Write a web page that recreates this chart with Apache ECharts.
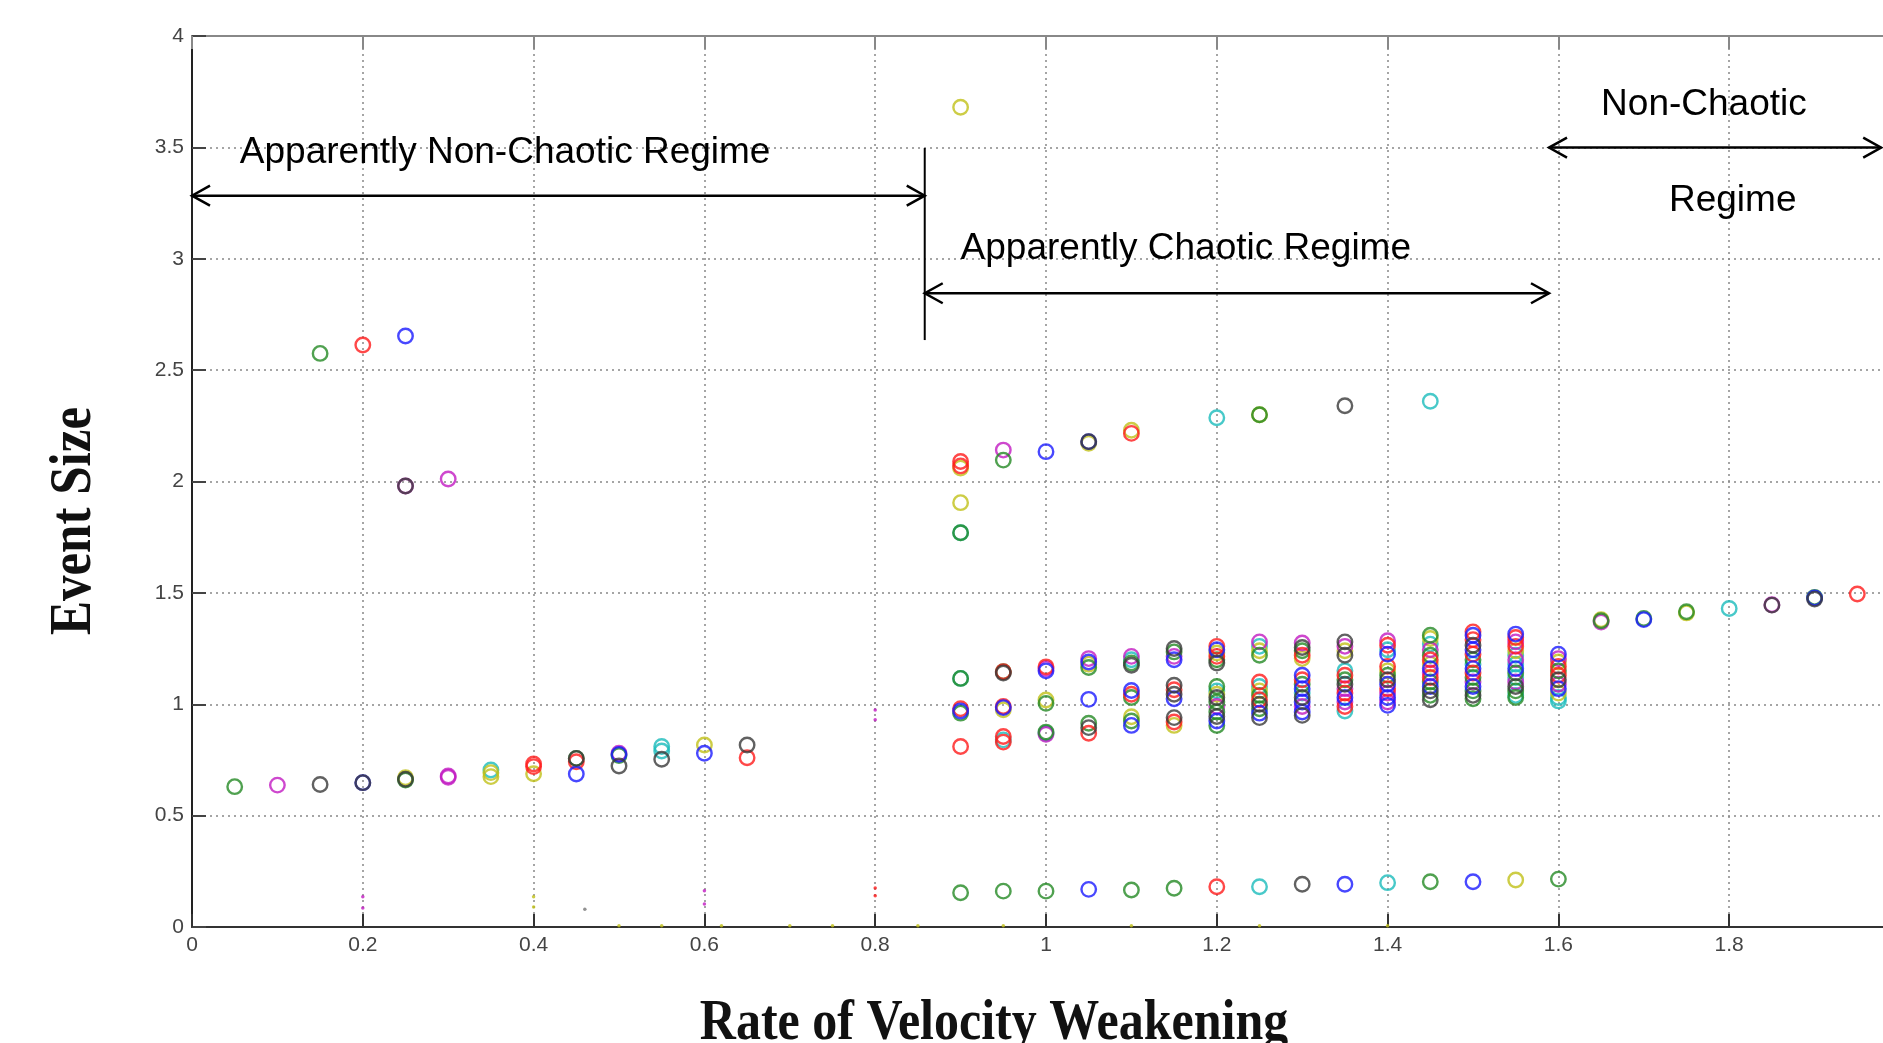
<!DOCTYPE html>
<html><head><meta charset="utf-8">
<script src="https://cdn.jsdelivr.net/npm/echarts@6/dist/echarts.min.js"></script>
<style>html,body{margin:0;padding:0;background:#fff;}#c{width:1883px;height:1043px;}</style>
</head><body><div id="c"></div>
<script>
// ---- data: [rate of velocity weakening, event size] per marker colour ----
const blueData = [
 [0.2,0.648],[0.45,0.687],[0.5,0.775],[0.6,0.78],[0.25,2.653],
 [0.9,0.97],[0.95,0.985],[1.0,2.134],[1.0,1.15],[1.05,2.179],[1.05,1.19],[1.05,1.022],[1.1,1.062],[1.1,0.905],[1.15,1.2],[1.15,1.025],
 [1.2,1.245],[1.2,0.925],[1.25,0.96],[1.3,1.13],[1.3,1.07],[1.3,1.01],[1.3,0.965],[1.35,1.03],[1.4,1.225],[1.4,1.09],[1.4,1.03],[1.4,0.995],
 [1.45,1.16],[1.45,1.08],[1.5,1.31],[1.5,1.245],[1.5,1.16],[1.5,1.08],[1.55,1.315],[1.55,1.16],[1.6,1.225],[1.6,1.07],
 [1.05,0.169],[1.35,0.192],[1.5,0.203],[1.7,1.38],[1.9,1.477]
];
const greenData = [
 [0.05,0.63],[0.25,0.66],[0.45,0.757],[0.5,0.77],[0.15,2.575],
 [0.9,1.77],[0.95,2.096],[1.25,2.30],
 [0.9,1.116],[0.9,0.96],[0.95,1.146],[1.0,1.004],[1.0,0.875],[1.05,1.165],[1.05,0.915],[1.1,1.185],[1.1,1.03],[1.1,0.925],[1.15,1.235],
 [1.2,1.2],[1.2,1.08],[1.2,1.01],[1.2,0.965],[1.2,0.905],[1.25,1.22],[1.25,1.04],[1.25,0.98],[1.3,1.24],[1.3,1.09],[1.35,1.11],[1.4,1.13],
 [1.45,1.31],[1.45,1.22],[1.45,1.1],[1.45,1.04],[1.5,1.2],[1.5,1.12],[1.5,1.06],[1.5,1.025],[1.55,1.14],[1.55,1.06],[1.55,1.03],[1.6,1.15],
 [0.9,0.154],[0.95,0.161],[1.0,0.161],[1.1,0.166],[1.15,0.174],[1.45,0.203],[1.6,0.215],
 [1.65,1.375],[1.7,1.385],[1.75,1.415],[1.9,1.48]
];
const redData = [
 [0.4,0.732],[0.4,0.72],[0.45,0.742],[0.65,0.76],[0.2,2.613],
 [0.9,2.09],[0.9,2.07],[1.1,2.216],
 [0.9,0.98],[0.9,0.81],[0.95,1.146],[0.95,0.99],[0.95,0.855],[0.95,0.83],[1.0,1.168],[1.05,0.87],[1.1,1.045],[1.15,1.065],[1.15,0.92],
 [1.2,1.26],[1.2,1.215],[1.25,1.10],[1.25,1.02],[1.3,1.22],[1.3,1.11],[1.35,1.13],[1.35,1.05],[1.35,0.99],[1.4,1.265],[1.4,1.17],[1.4,1.07],
 [1.45,1.2],[1.45,1.12],[1.5,1.325],[1.5,1.29],[1.5,1.225],[1.5,1.14],[1.55,1.3],[1.55,1.26],[1.6,1.17],[1.6,1.13],
 [1.2,0.181],[1.95,1.495]
];
const cyanData = [
 [0.35,0.705],[0.55,0.81],[0.55,0.79],
 [0.9,1.77],[1.2,2.286],[1.45,2.36],
 [0.9,1.116],[0.95,0.84],[1.0,0.87],[1.1,1.2],[1.2,1.06],[1.25,1.26],[1.25,1.08],[1.3,1.05],[1.35,1.15],[1.35,0.97],[1.4,1.245],
 [1.45,1.27],[1.5,1.18],[1.55,1.22],[1.55,1.18],[1.55,1.12],[1.55,1.04],[1.6,1.03],[1.6,1.015],
 [1.25,0.181],[1.4,0.199],[1.8,1.43]
];
const magentaData = [
 [0.1,0.637],[0.3,0.672],[0.3,0.678],[0.5,0.78],[0.25,1.98],[0.3,2.011],[0.95,2.141],
 [1.0,1.16],[1.0,0.865],[1.05,1.205],[1.1,1.215],[1.15,1.215],[1.2,0.99],[1.25,1.28],[1.3,1.275],[1.3,0.99],[1.35,1.26],[1.35,1.07],[1.35,1.01],[1.4,1.285],[1.4,1.05],[1.4,1.01],
 [1.45,1.245],[1.45,1.14],[1.5,1.1],[1.55,1.28],[1.55,1.2],[1.55,1.1],[1.6,1.205],[1.6,1.09],
 [1.65,1.369],[1.85,1.447]
];
const yellowData = [
 [0.25,0.67],[0.35,0.693],[0.35,0.675],[0.4,0.688],[0.6,0.817],
 [0.9,3.68],[0.9,2.06],[0.9,1.905],[1.05,2.172],[1.1,2.23],[1.25,2.30],
 [0.95,0.975],[1.0,1.019],[1.05,1.18],[1.1,0.944],[1.15,0.905],[1.2,1.23],[1.2,1.045],[1.25,1.24],[1.25,1.06],[1.3,1.205],[1.35,1.24],[1.4,1.15],
 [1.45,1.295],[1.45,1.18],[1.55,1.24],[1.6,1.19],[1.6,1.05],
 [1.55,0.211],[1.65,1.38],[1.75,1.41]
];
const grayData = [
 [0.15,0.64],[0.2,0.648],[0.25,0.663],[0.45,0.757],[0.5,0.723],[0.55,0.753],[0.65,0.817],
 [0.25,1.98],[1.05,2.179],[1.35,2.34],
 [0.95,1.14],[1.05,0.895],[1.1,1.175],[1.15,1.25],[1.15,1.085],[1.15,1.045],[1.15,0.94],[1.2,1.185],[1.2,1.03],[1.2,0.945],[1.25,1.0],[1.25,0.94],[1.3,1.255],[1.3,1.03],[1.3,0.95],[1.35,1.28],[1.35,1.22],[1.35,1.09],[1.4,1.11],
 [1.45,1.06],[1.45,1.02],[1.5,1.265],[1.5,1.04],[1.55,1.08],[1.6,1.11],
 [1.3,0.192],[1.85,1.445],[1.9,1.472]
];
// tiny point markers
const dotMagenta = [[0.2,0.136],[0.2,0.085],[0.6,0.163],[0.6,0.103],[0.8,0.974],[0.8,0.93]];
const dotYellow  = [[0.4,0.136],[0.4,0.09],[0.5,0.006],[0.55,0.006],[0.62,0.006],[0.7,0.006],[0.75,0.006],[0.85,0.006],[0.95,0.006],[1.1,0.006],[1.25,0.006],[1.4,0.006]];
const dotRed     = [[0.8,0.175],[0.8,0.14]];
const dotGray    = [[0.46,0.08]];

// regime annotations (data coordinates)
const regimeArrows = [
 [[0.0,3.283],[0.858,3.283]],
 [[0.858,2.845],[1.589,2.845]],
 [[1.589,3.499],[1.978,3.499]]
];
const regimeDivider = [[0.858,3.497],[0.858,2.635]];
const regimeLabels = [
 ['Apparently Non-Chaotic Regime',0.056,3.475],
 ['Apparently Chaotic Regime',0.9,3.044],
 ['Non-Chaotic',1.65,3.69],
 ['Regime',1.7295,3.259]
];
const xTitle = 'Rate of Velocity Weakening';
const yTitle = 'Event Size';

const colours = {
 blue:'#1a1aff', green:'#248a24', red:'#ff1a1a', cyan:'#1abcbc',
 magenta:'#c21ac2', yellow:'#c0c018', gray:'#3a3a3a'
};

const chart = echarts.init(document.getElementById('c'));
function ring(data, c){
  return {type:'scatter', data, symbol:'circle', symbolSize:14.5, silent:true,
    itemStyle:{color:'rgba(0,0,0,0)', borderColor:c, borderWidth:2.4}};
}
function dots(data, c){
  return {type:'scatter', data, symbol:'circle', symbolSize:3.5, silent:true,
    itemStyle:{color:c}};
}
const tickFont = {fontFamily:'"Liberation Sans", Arial, sans-serif', fontSize:21, color:'#444'};
const option = {
  animation:false,
  backgroundColor:'#fff',
  grid:{left:192, width:1708, top:36, height:891, outerBoundsMode:'none', containLabel:false},
  xAxis:[{
    type:'value', min:0, max:2, interval:0.2,
    axisLine:{lineStyle:{color:'#333', width:2}},
    axisTick:{inside:true, length:13, lineStyle:{color:'#333', width:2}},
    axisLabel:Object.assign({margin:8}, tickFont),
    splitLine:{show:true, lineStyle:{color:'#888', width:1.5, type:[2,4]}}
  },{
    type:'value', min:0, max:2, interval:0.2, position:'top',
    axisLine:{lineStyle:{color:'#888', width:2}},
    axisTick:{inside:true, length:13, lineStyle:{color:'#888', width:2}},
    axisLabel:{show:false}, splitLine:{show:false}
  }],
  yAxis:{
    type:'value', min:0, max:4, interval:0.5,
    axisLine:{lineStyle:{color:'#222', width:2}},
    axisTick:{inside:true, length:14, lineStyle:{color:'#444', width:2}},
    axisLabel:Object.assign({margin:8}, tickFont),
    splitLine:{show:true, lineStyle:{color:'#888', width:1.5, type:[2,4]}}
  },
  series:[
    dots(dotMagenta,colours.magenta), dots(dotYellow,colours.yellow), dots(dotRed,colours.red), dots(dotGray,'#777'),
    ring(cyanData,colours.cyan), ring(yellowData,colours.yellow), ring(magentaData,colours.magenta),
    ring(greenData,colours.green), ring(redData,colours.red), ring(blueData,colours.blue), ring(grayData,colours.gray)
  ]
};
chart.setOption(option);

const px = p => chart.convertToPixel({xAxisIndex:0, yAxisIndex:0}, p);
const els = [];
const ink = {stroke:'#000', lineWidth:2.5, fill:null};
function head(P, dir){
  els.push({type:'polyline', z:100, shape:{points:[[P[0]+18*dir,P[1]-10],[P[0],P[1]],[P[0]+18*dir,P[1]+10]]}, style:ink});
}
regimeArrows.forEach(([a,b])=>{
  const A = px(a), B = px(b);
  els.push({type:'line', z:100, shape:{x1:A[0],y1:A[1],x2:B[0],y2:B[1]}, style:ink});
  head(A, 1); head(B, -1);
});
{
  const A = px(regimeDivider[0]), B = px(regimeDivider[1]);
  els.push({type:'line', z:100, shape:{x1:A[0],y1:A[1],x2:B[0],y2:B[1]}, style:{stroke:'#000', lineWidth:2}});
}
regimeLabels.forEach(([t,x,y])=>{
  const P = px([x,y]);
  els.push({type:'text', z:100, style:{text:t, x:P[0], y:P[1], align:'left', verticalAlign:'middle',
    font:'37px "Liberation Sans", Arial, sans-serif', fill:'#000'}});
});
els.push({type:'text', z:100, x:994, y:1024, scaleY:1.15,
  style:{text:xTitle, x:0, y:0, align:'center', verticalAlign:'middle', font:'bold 50px "Liberation Serif", "Times New Roman", serif', fill:'#111'}});
els.push({type:'text', z:100, x:75, y:521, rotation:Math.PI/2, scaleY:1.15,
  style:{text:yTitle, x:0, y:0, align:'center', verticalAlign:'middle', font:'bold 51px "Liberation Serif", "Times New Roman", serif', fill:'#111'}});
chart.setOption({graphic:{elements:els}});
</script>
</body></html>
